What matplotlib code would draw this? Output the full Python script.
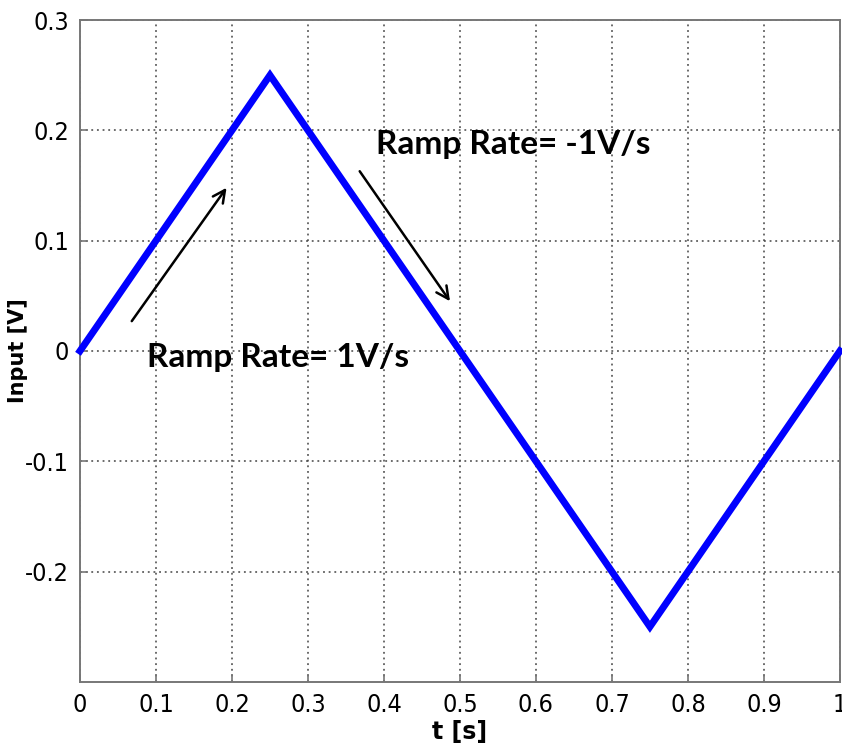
import matplotlib.pyplot as plt
from matplotlib import font_manager

# triangle input signal: corner times and voltages
t_pts = [0.0, 0.25, 0.75, 1.0]
v_pts = [0.0, 0.25, -0.25, 0.0]

x_ticks = [0, 0.1, 0.2, 0.3, 0.4, 0.5, 0.6, 0.7, 0.8, 0.9, 1]
y_ticks = [-0.2, -0.1, 0, 0.1, 0.2, 0.3]

names = {f.name for f in font_manager.fontManager.ttflist}
tick_font = 'Liberation Sans Narrow' if 'Liberation Sans Narrow' in names else 'DejaVu Sans'

fig = plt.figure(figsize=(8.42, 7.56), dpi=100)
ax = fig.add_axes([0.095, 0.098, 0.9025, 0.8755])

ax.plot(t_pts, v_pts, color='#0000ff', lw=5, solid_joinstyle='miter', clip_on=False, zorder=3)

ax.set_xlim(0, 1)
ax.set_ylim(-0.3, 0.3)
ax.set_xticks(x_ticks)
ax.set_xticklabels(['0', '0.1', '0.2', '0.3', '0.4', '0.5', '0.6', '0.7', '0.8', '0.9', '1'])
ax.set_yticks(y_ticks)
ax.set_yticklabels(['-0.2', '-0.1', '0', '0.1', '0.2', '0.3'])
ax.grid(True, color='#444444', linestyle=(0, (1.2, 2.5)), linewidth=1.1)
ax.tick_params(direction='in', length=6, width=1.2, color='#777777', labelsize=18, pad=8)
for lbl in ax.get_xticklabels() + ax.get_yticklabels():
    lbl.set_fontfamily(tick_font)
    lbl.set_fontstretch('condensed')
for sp in ax.spines.values():
    sp.set_color('#777777')
    sp.set_linewidth(1.4)

ax.set_xlabel('t [s]', fontsize=17, fontweight='bold')
ax.xaxis.set_label_coords(0.5, -0.058)
ax.set_ylabel('Input [V]', fontsize=15, fontweight='bold')
ax.yaxis.set_label_coords(-0.068, 0.5)

# ramp annotations
ax.annotate('', xy=(0.195, 0.15), xytext=(0.066, 0.025),
            arrowprops=dict(arrowstyle='->', color='black', lw=1.8, mutation_scale=22))
ax.annotate('', xy=(0.489, 0.043), xytext=(0.366, 0.165),
            arrowprops=dict(arrowstyle='->', color='black', lw=1.8, mutation_scale=22))
ax.text(0.088, -0.006, 'Ramp Rate= 1V/s', fontsize=24, family='Lato', fontweight='bold',
        ha='left', va='center')
ax.text(0.39, 0.187, 'Ramp Rate= -1V/s', fontsize=24, family='Lato', fontweight='bold',
        ha='left', va='center')

fig.savefig('out.png', dpi=100)
